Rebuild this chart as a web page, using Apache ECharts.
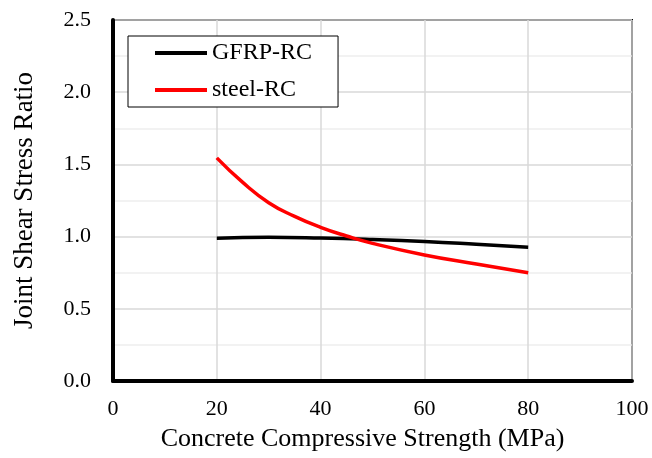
<!DOCTYPE html>
<html>
<head>
<meta charset="utf-8">
<script src="https://cdn.jsdelivr.net/npm/echarts@6/dist/echarts.min.js"></script>
<style>
  html, body { margin: 0; padding: 0; background: #fff; }
  #chart { width: 652px; height: 458px; }
</style>
</head>
<body>
<div id="chart"></div>
<script>
// Concrete compressive strength (MPa) and joint shear stress ratio
const strengthGFRP = [20, 30, 40, 50, 60, 70, 80];
const ratioGFRP = [0.988, 0.995, 0.99, 0.98, 0.966, 0.947, 0.926];

const strengthSteel = [20, 25, 30, 35, 40, 45, 50, 60, 70, 80];
const ratioSteel = [1.545, 1.375, 1.235, 1.14, 1.064, 1.004, 0.953, 0.873, 0.81, 0.75];

const seriesNames = ['GFRP-RC', 'steel-RC'];
const xTitle = 'Concrete Compressive Strength (MPa)';
const yTitle = 'Joint Shear Stress Ratio';

const serif = '"Liberation Serif", "Times New Roman", serif';

const pairs = (xs, ys) => xs.map((x, i) => [x, ys[i]]);

const chart = echarts.init(document.getElementById('chart'), null, { renderer: 'canvas' });
chart.setOption({
  animation: false,
  backgroundColor: '#fff',
  grid: {
    left: 113, right: 20, top: 20, bottom: 77,
    show: true, borderColor: '#000', borderWidth: 2
  },
  legend: {
    orient: 'vertical',
    left: 128, top: 36,
    padding: [5, 26, 5, 27],
    itemGap: 13,
    itemWidth: 52, itemHeight: 4,
    borderColor: '#000', borderWidth: 1,
    backgroundColor: '#fff',
    textStyle: { fontFamily: serif, fontSize: 24, color: '#000', lineHeight: 24 },
    data: seriesNames.map(n => ({ name: n, icon: 'rect' }))
  },
  xAxis: {
    type: 'value', min: 0, max: 100, interval: 20,
    name: xTitle, nameLocation: 'middle', nameGap: 45,
    nameTextStyle: { fontFamily: serif, fontSize: 26, color: '#000', padding: [0, 20, 0, 0] },
    axisLine: { show: true, onZero: false, lineStyle: { color: '#000', width: 4 } },
    axisTick: { show: false },
    axisLabel: { fontFamily: serif, fontSize: 22, color: '#000', margin: 17 },
    splitLine: { show: true, lineStyle: { color: '#d9d9d9', width: 1.5 } }
  },
  yAxis: {
    type: 'value', min: 0, max: 2.5, interval: 0.5,
    name: yTitle, nameLocation: 'middle', nameGap: 75,
    nameTextStyle: { fontFamily: serif, fontSize: 27, color: '#000' },
    axisLine: { show: true, lineStyle: { color: '#000', width: 4 } },
    axisTick: { show: false },
    axisLabel: { fontFamily: serif, fontSize: 22, color: '#000', margin: 22,
      formatter: v => v.toFixed(1) },
    splitLine: { show: true, lineStyle: { color: '#d9d9d9', width: 1.5 } },
    minorTick: { show: false, splitNumber: 2 },
    minorSplitLine: { show: true, lineStyle: { color: '#eeeeee', width: 1.5 } }
  },
  series: [
    {
      name: seriesNames[0], type: 'line', smooth: true, showSymbol: false,
      lineStyle: { color: '#000', width: 3.5 }, itemStyle: { color: '#000' },
      data: pairs(strengthGFRP, ratioGFRP), z: 3
    },
    {
      name: seriesNames[1], type: 'line', smooth: true, showSymbol: false,
      lineStyle: { color: '#ff0000', width: 3.5 }, itemStyle: { color: '#ff0000' },
      data: pairs(strengthSteel, ratioSteel), z: 4
    }
  ]
});
</script>
</body>
</html>
